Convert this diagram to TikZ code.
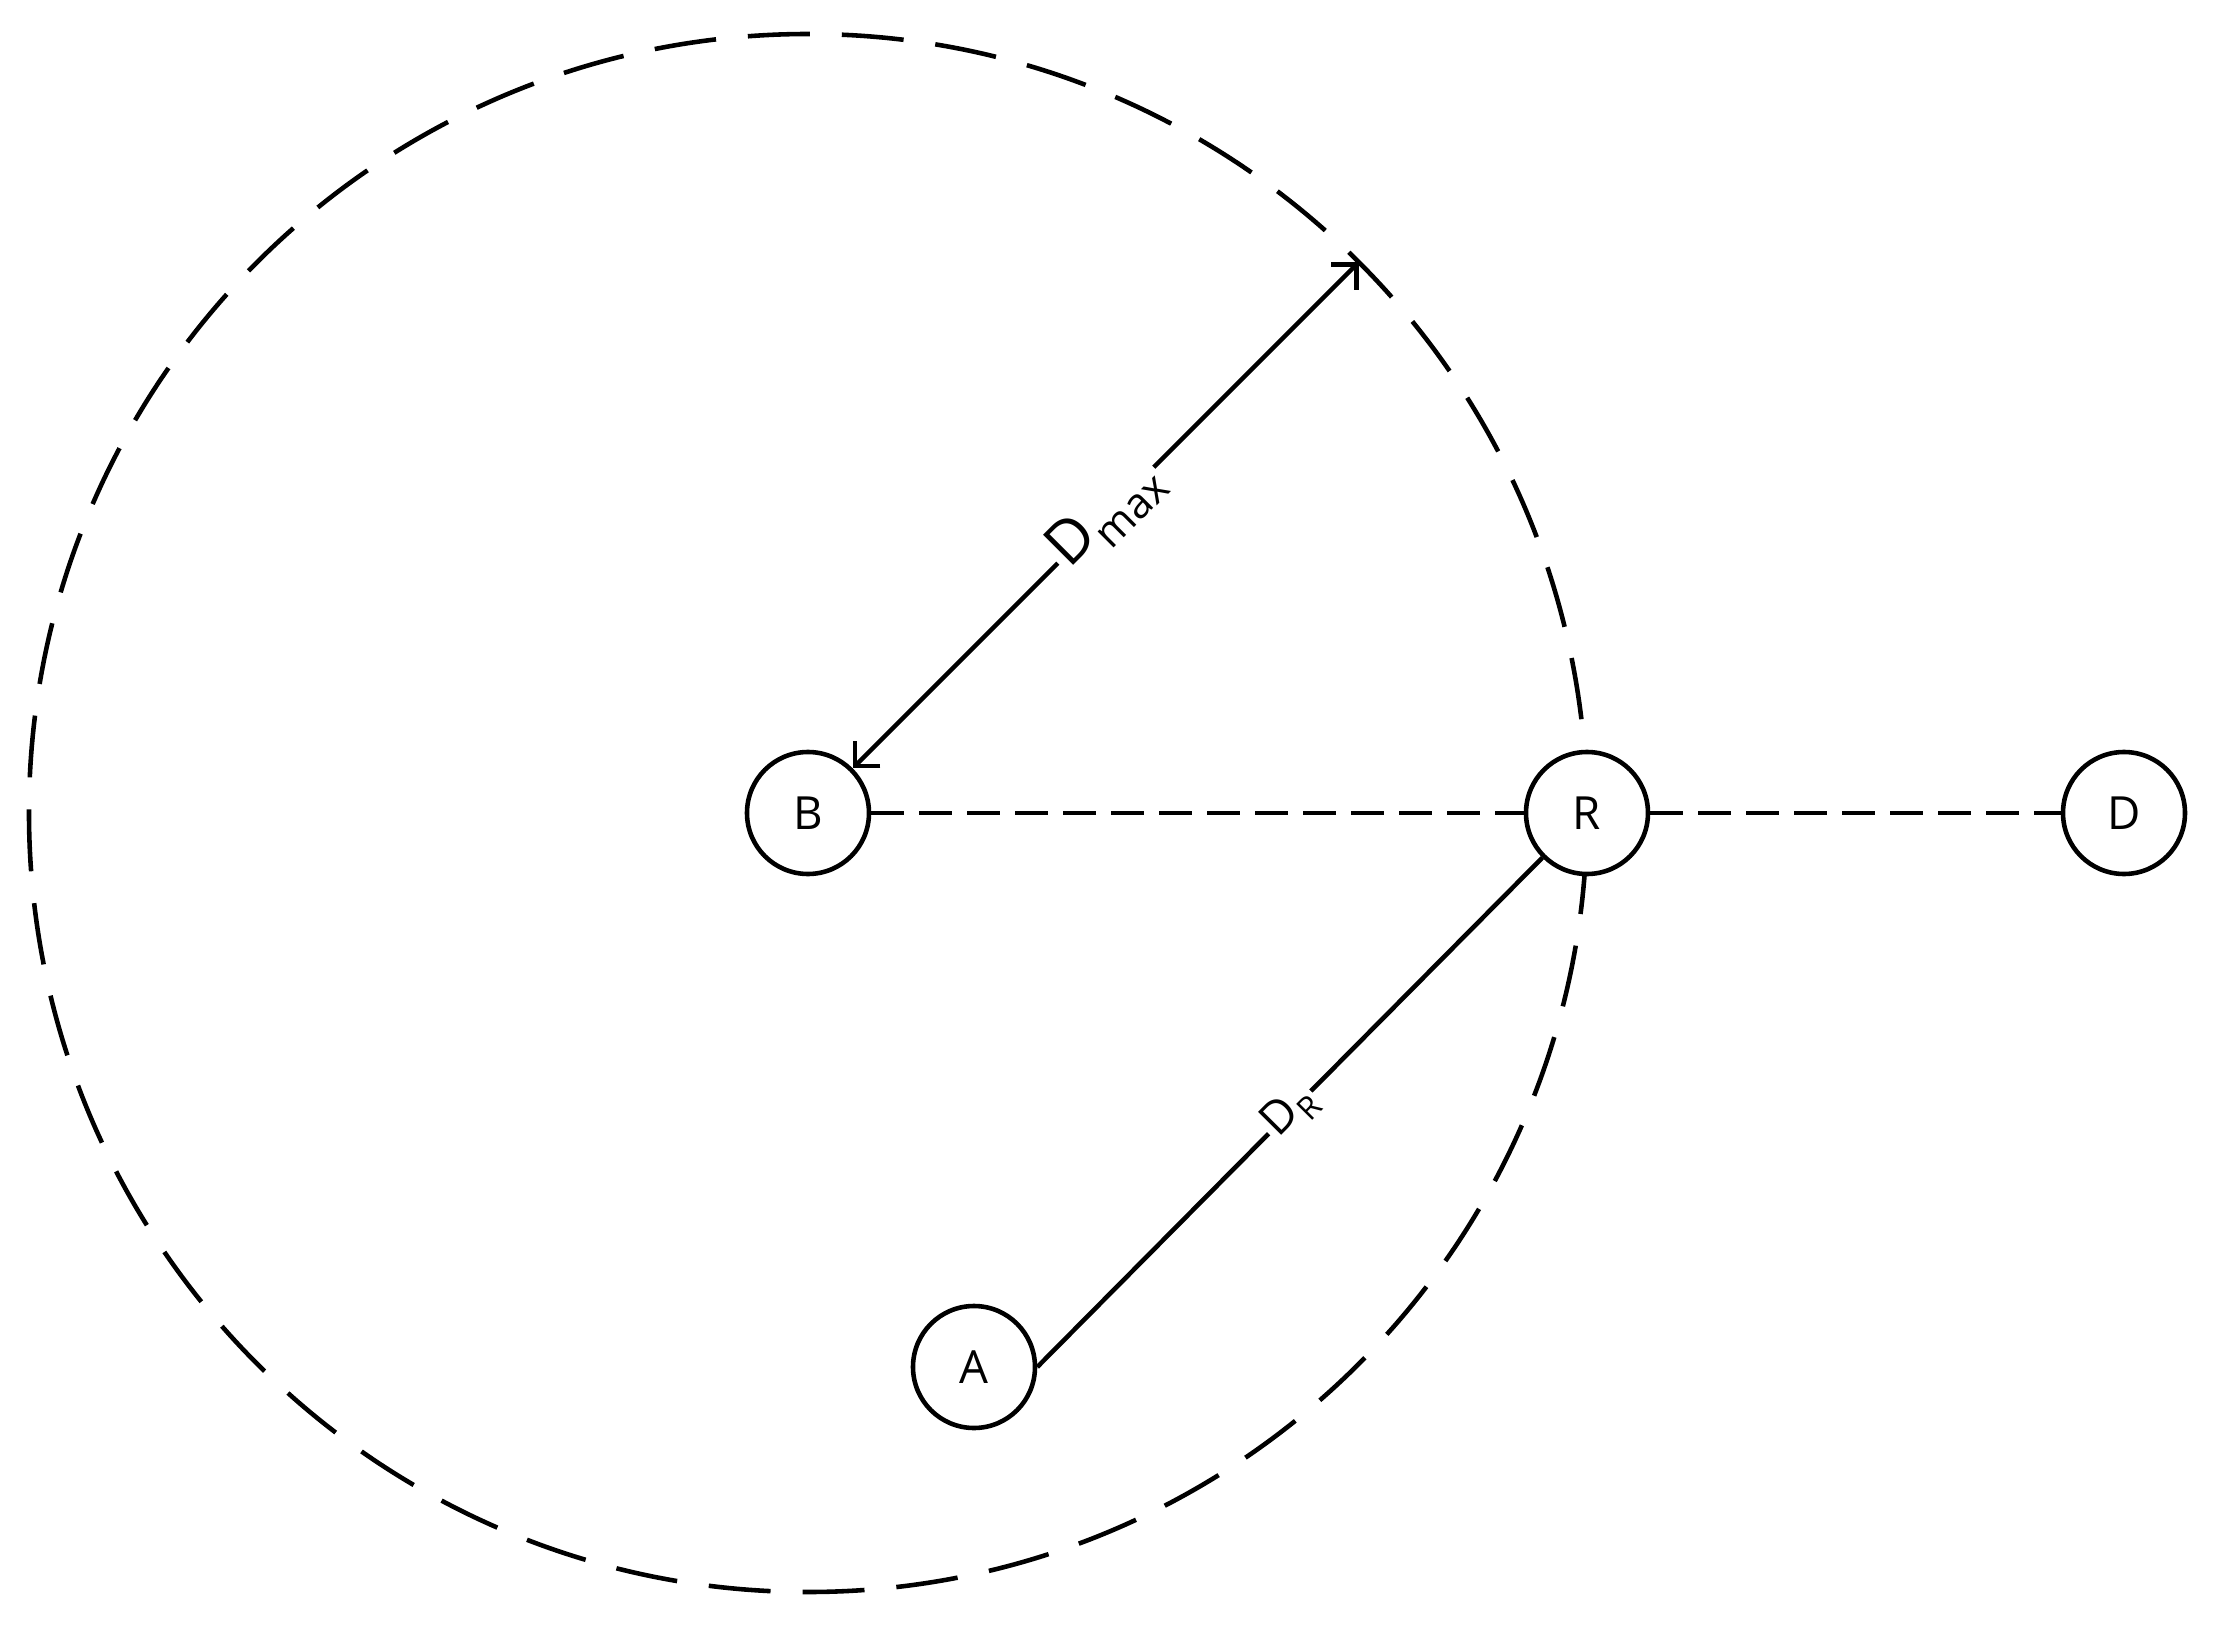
\documentclass[tikz,border=0pt]{standalone}
\usepackage{fontspec}
\setmainfont{Open Sans}
\usetikzlibrary{arrows.meta}

\tikzset{
  station/.style={circle, draw, fill=white, line width=1.3pt, minimum size=1.22cm, inner sep=0pt, font=\fontsize{13}{15}\selectfont},
  linkdash/.style={line width=1.3pt, dash pattern=on 3.3mm off 1.5mm},
  rangedash/.style={line width=1.3pt, dash pattern=on 6.2mm off 3.2mm},
}

\begin{document}
\begin{tikzpicture} %Zona de cobertura de B con relevo R
            \useasboundingbox (-8.08,-8.15) rectangle (14.09,8.13);

            \coordinate (B0) at (0,0);
            \coordinate (Rim) at (45:7.79);

            \draw[rangedash] (B0) circle (7.79);

            \node[station] (B) at (0,0) {B};
            \node[station] (R) at (7.79,0) {R};
            \node[station] (D) at (13.16,0) {D};
            \node[station] (A) at (1.66,-5.54) {A};

            \draw[linkdash] (B) -- (R);
            \draw[linkdash] (R) -- (D);

            \draw[line width=1.3pt, {Straight Barb[length=1.8mm,width=3.6mm]}-{Straight Barb[length=1.8mm,width=3.6mm]}] (B.north east) -- (Rim)
                node[midway, sloped, fill=white, inner sep=1pt, font=\fontsize{17}{19}\selectfont]{D\raisebox{-0.5ex}{\fontsize{12}{14}\selectfont max}};

            \draw[line width=1.3pt] (A.east) -- (R.south west)
                node[midway, sloped, fill=white, inner sep=1pt, font=\fontsize{13}{15}\selectfont]{D\raisebox{-0.45ex}{\fontsize{9}{11}\selectfont R}};
        \end{tikzpicture}
\end{document}
